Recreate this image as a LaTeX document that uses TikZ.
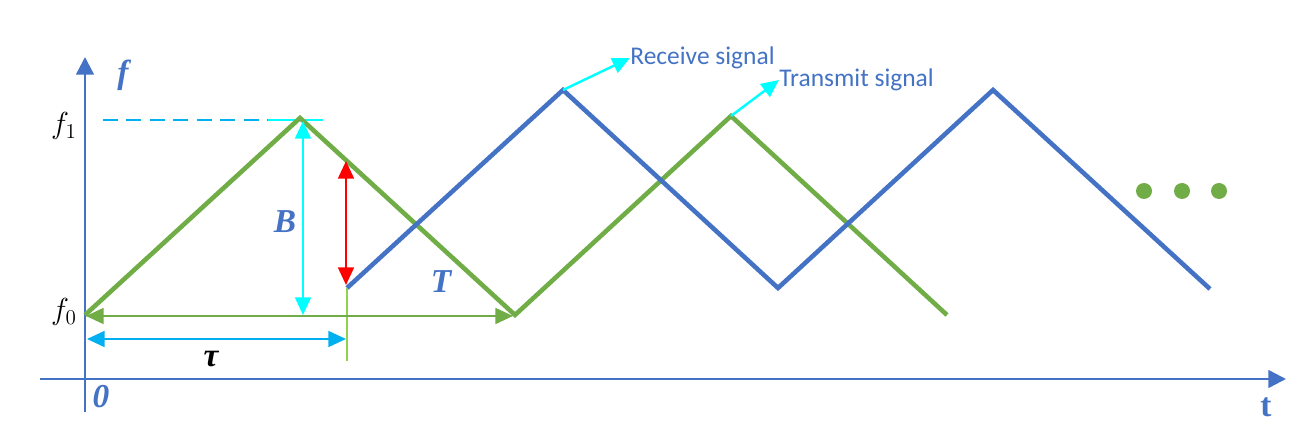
\documentclass[tikz,border=0pt]{standalone}
\usepackage{fontspec}
\usetikzlibrary{arrows.meta}
\newfontfamily\tnr{Liberation Serif}
\newfontfamily\cali{Carlito}
\definecolor{sigblue}{HTML}{4472C4}
\definecolor{siggreen}{HTML}{70AD47}
\definecolor{liteblue}{HTML}{00B0F0}
\definecolor{litegreen}{HTML}{92D050}
\definecolor{brightcyan}{HTML}{00FFFF}
\definecolor{brightred}{HTML}{FF0000}

\begin{document}
\begin{tikzpicture}[x=0.02cm,y=-0.02cm,
    wave/.style={line width=2.6pt,line join=miter},
    axis/.style={sigblue,line width=1.4pt,-{Triangle[length=10pt,width=10pt]}},
    dim/.style={line width=1.2pt,{Triangle[length=10pt,width=9pt]}-{Triangle[length=10pt,width=9pt]}},
    lab/.style={text=sigblue,font=\tnr\bfseries\itshape\fontsize{19}{22}\selectfont,inner sep=0pt},
    sig/.style={text=sigblue,font=\cali\fontsize{14.5}{17}\selectfont,inner sep=0pt,anchor=west}]
  \useasboundingbox (0,0) rectangle (1302,435);

  % axes
  \coordinate (xs) at (40,379);  \coordinate (xe) at (1286,379);
  \coordinate (ys) at (85,412);  \coordinate (ye) at (85,57);
  \draw[axis] (xs) -- (xe);
  \draw[axis] (ys) -- (ye);
  \node[lab] (flab) at (123,75) {f};
  \node[lab] (zero) at (101,397) {0};
  \node[text=sigblue,font=\tnr\bfseries\fontsize{19}{22}\selectfont,inner sep=0pt] (tlab) at (1266,407) {t};
  \node[inner sep=0pt,font=\fontsize{17}{20}\selectfont] (fone) at (64,126) {$f_1$};
  \node[inner sep=0pt,font=\fontsize{17}{20}\selectfont] (fzero) at (64,312) {$f_0$};

  % f1 level
  \coordinate (da) at (103,120); \coordinate (db) at (268,120); \coordinate (dc) at (323,120);
  \draw[liteblue,line width=1.2pt,dash pattern=on 0.3cm off 0.17cm] (da) -- (db);
  \draw[brightcyan,line width=1.2pt] (db) -- (dc);

  % transmit signal
  \foreach \n/\x/\y in {0/85/315,1/300/118,2/515/315,3/731/116,4/947/315}
    \coordinate (t\n) at (\x,\y);
  \draw[wave,siggreen] (t0) -- (t1) -- (t2) -- (t3) -- (t4);

  % receive signal
  \foreach \n/\x/\y in {0/347/288,1/563/90,2/778/288,3/993/90,4/1210/289}
    \coordinate (r\n) at (\x,\y);
  \draw[wave,sigblue] (r0) -- (r1) -- (r2) -- (r3) -- (r4);

  % B
  \coordinate (bt) at (303,121); \coordinate (bb) at (303,315);
  \draw[dim,brightcyan] (bt) -- (bb);
  \node[lab] (blab) at (285,222) {B};

  % delay
  \coordinate (ft) at (346,161); \coordinate (fb) at (346,285);
  \draw[dim,brightred] (ft) -- (fb);
  \coordinate (vt) at (347,288); \coordinate (vb) at (347,361);
  \draw[litegreen,line width=1.2pt] (vt) -- (vb);

  % T
  \coordinate (pa) at (86,316); \coordinate (pb) at (513,316);
  \draw[dim,siggreen] (pa) -- (pb);
  \node[lab] (Tlab) at (441,282) {T};

  % tau
  \coordinate (ua) at (87,339); \coordinate (ub) at (346,339);
  \draw[dim,liteblue] (ua) -- (ub);
  \node[inner sep=0pt,font=\tnr\bfseries\itshape\fontsize{19}{22}\selectfont] (taulab) at (211,359) {τ};

  % signal names
  \node[sig] (rlab) at (630,58) {Receive signal};
  \node[sig] (xlab) at (779,80) {Transmit signal};
  \draw[brightcyan,line width=1.4pt,-{Triangle[length=10pt,width=9pt]}] (r1) -- (rlab.west);
  \draw[brightcyan,line width=1.4pt,-{Triangle[length=10pt,width=9pt]}] (t3) -- (xlab.west);

  % dots
  \foreach \x in {1144,1182,1219}
    \fill[siggreen] (\x,191) circle [radius=0.16cm];
\end{tikzpicture}
\end{document}
